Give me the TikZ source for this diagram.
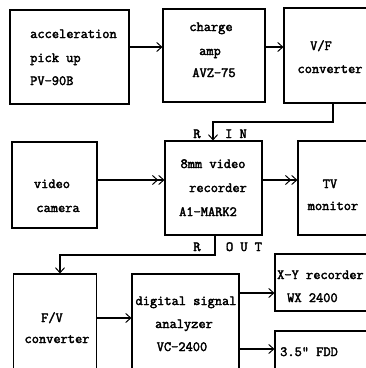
\documentclass[tikz,border=0pt]{standalone}
\usepackage{fontspec}
\setmonofont{Latin Modern Mono}[AutoFakeBold=2.5]
\usetikzlibrary{arrows.meta}
\tikzset{
  blk/.style={draw, line width=1.1pt, inner sep=0pt},
  lbl/.style={inner sep=0pt, font=\ttfamily\bfseries\fontsize{14}{16}\selectfont},
  wire/.style={line width=1.1pt},
  arr/.style={wire, -{Straight Barb[length=5pt,width=9pt,line width=1pt]}},
  darr/.style={wire, -{Straight Barb[length=5pt,width=9pt,line width=1pt]Straight Barb[length=5pt,width=9pt,line width=1pt]}}
}
\begin{document}
\begin{tikzpicture}[x=1pt,y=-1pt]
\useasboundingbox (0,0) rectangle (366,368);
\clip (0,0) rectangle (366,368);
\fill[white] (0,0) rectangle (366,368);
% boxes
\node[blk, minimum width=119pt, minimum height=94pt] (A) at (69.5,57) {};
\node[blk, minimum width=102pt, minimum height=93pt] (B) at (214,55.5) {};
\node[blk, minimum width=90pt, minimum height=95pt] (C) at (329,55.5) {};
\node[blk, minimum width=85pt, minimum height=86pt] (CAM) at (54.5,185) {};
\node[blk, minimum width=97pt, minimum height=94pt] (REC) at (213.5,188) {};
\node[blk, minimum width=76pt, minimum height=94pt] (TV) at (336,188) {};
\node[blk, minimum width=83pt, minimum height=100pt] (FV) at (55,324) {};
\node[blk, minimum width=107pt, minimum height=100pt] (DSA) at (185.5,324) {};
\node[blk, minimum width=99pt, minimum height=57pt] (XY) at (324.5,282.5) {};
\node[blk, minimum width=99pt, minimum height=45pt] (FDD) at (324.5,353.5) {};
% texts
\node[lbl, anchor=base west] (a1) at (30,38) {acceleration};
\node[lbl, anchor=base west] (a2) at (30,62) {pick up};
\node[lbl, anchor=base west] (a3) at (30,85) {PV-90B};
\node[lbl, anchor=base] (b1) at (211,31) {charge};
\node[lbl, anchor=base] (b2) at (210,55) {amp};
\node[lbl, anchor=base] (b3) at (214,77) {AVZ-75};
\node[lbl, anchor=base] (c1) at (321,50) {V/F};
\node[lbl, anchor=base] (c2) at (330,73) {converter};
\node[lbl, anchor=base] (r1) at (213,168) {8mm video};
\node[lbl, anchor=base] (r2) at (218,192) {recorder};
\node[lbl, anchor=base] (r3) at (208,216) {A1-MARK2};
\node[lbl, anchor=base] (t1) at (330,188) {TV};
\node[lbl, anchor=base] (t2) at (333,210) {monitor};
\node[lbl, anchor=base] (v1) at (52,188) {video};
\node[lbl, anchor=base] (v2) at (58,212) {camera};
\node[lbl, anchor=base] (ri1) at (197,138) {R};
\node[lbl, anchor=base] (ri2) at (236,138) {I N};
\node[lbl, anchor=base] (ro1) at (197,251) {R};
\node[lbl, anchor=base] (ro2) at (244,251) {O U T};
\node[lbl, anchor=base] (f1) at (52,322) {F/V};
\node[lbl, anchor=base] (f2) at (57,343) {converter};
\node[lbl, anchor=base] (d1) at (186,305) {digital signal};
\node[lbl, anchor=base] (d2) at (184,328) {analyzer};
\node[lbl, anchor=base] (d3) at (182,351) {VC-2400};
\node[lbl, anchor=base west] (x1) at (277,279) {X-Y recorder};
\node[lbl, anchor=base west] (x2) at (287,302) {WX 2400};
\node[lbl, anchor=base west] (fd) at (280,356) {3.5" FDD};
% connectors
\coordinate (y47) at (0,47);
\coordinate (y180) at (0,180);
\coordinate (y318) at (0,318);
\coordinate (y293) at (0,293);
\coordinate (y349) at (0,349);
\coordinate (inx) at (213,0);
\coordinate (outx) at (215,0);
\coordinate (cx) at (333,0);
\coordinate (fvx) at (60,0);
\coordinate (k1) at (333,122);
\coordinate (k2) at (213,122);
\coordinate (k3) at (215,255);
\coordinate (k4) at (60,255);
\draw[arr] (A.east |- y47) -- (B.west |- y47);
\draw[arr] (B.east |- y47) -- (C.west |- y47);
\draw[arr] (C.south -| cx) -- (k1) -- (k2) -- (REC.north -| inx);
\draw[darr] (CAM.east |- y180) -- (REC.west |- y180);
\draw[darr] (REC.east |- y180) -- (TV.west |- y180);
\draw[arr] (REC.south -| outx) -- (k3) -- (k4) -- (FV.north -| fvx);
\draw[arr] (FV.east |- y318) -- (DSA.west |- y318);
\draw[arr] (DSA.east |- y293) -- (XY.west |- y293);
\draw[arr] (DSA.east |- y349) -- (FDD.west |- y349);
\end{tikzpicture}
\end{document}
